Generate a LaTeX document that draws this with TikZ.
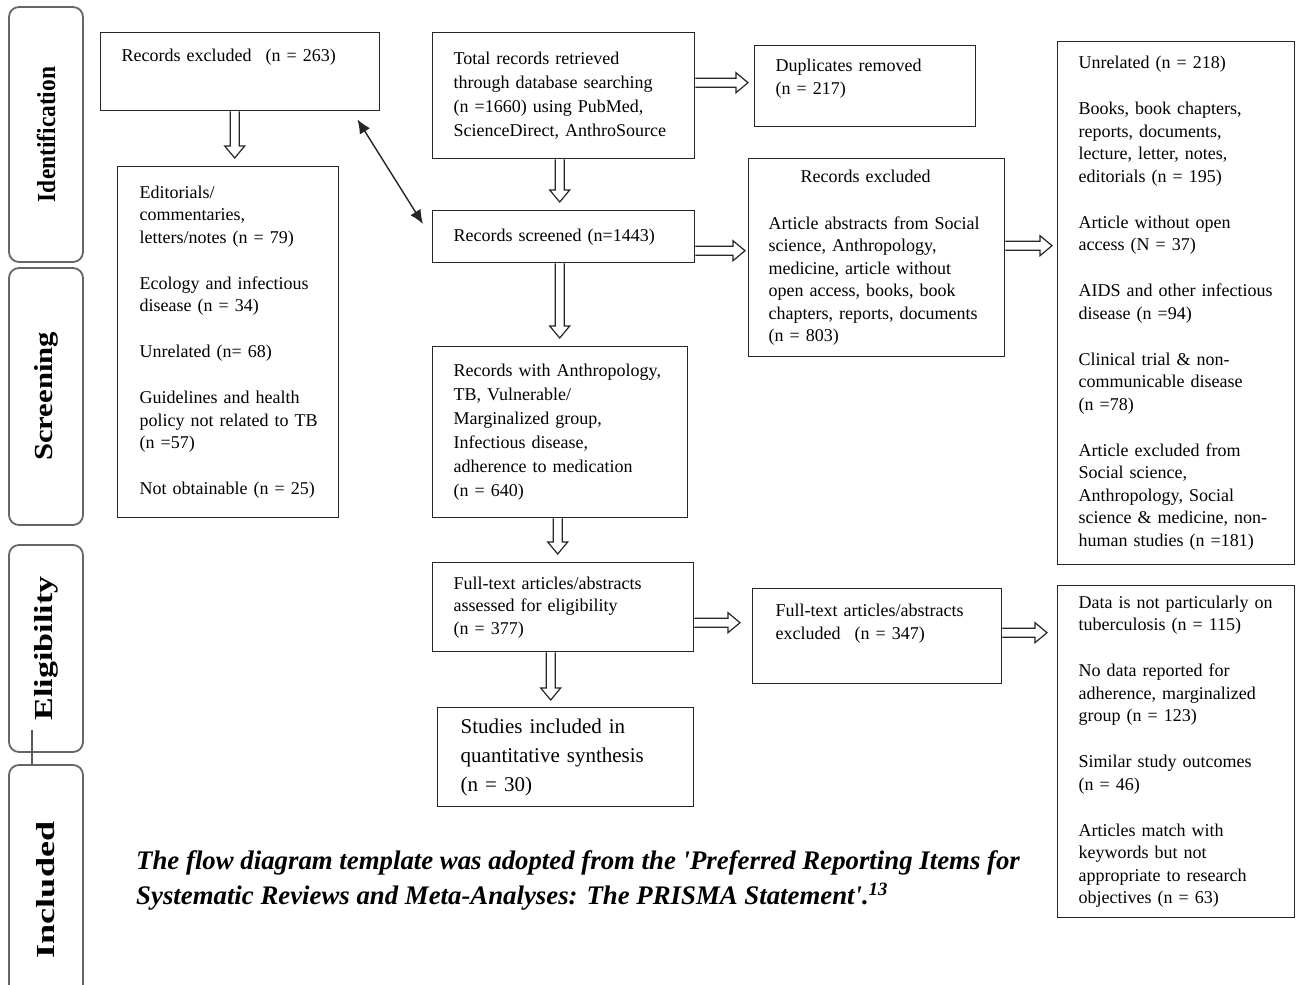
\documentclass[tikz,border=0pt]{standalone}
\usepackage{fontspec}
\setmainfont{Liberation Serif}
\usetikzlibrary{arrows.meta,calc}
\newcommand\pgap{\\[23.5pt]}
\begin{document}
\begin{tikzpicture}[x=1pt,y=-1pt,
  box/.style={draw=black!85, line width=1.4pt, anchor=north west, align=left, inner ysep=3pt, font=\fontsize{18}{22.5}\selectfont},
  bar/.style={draw=black!60, line width=1.8pt, rounded corners=10pt, rotate=90, font=\fontsize{26}{26}\selectfont\bfseries, inner sep=0pt, minimum height=74pt},
  darr/.style={draw=black!85, line width=1.2pt, line join=miter,
    to path={let \p1=(\tikztostart), \p2=(\tikztotarget) in
      (\x1-4.5pt,\y1) -- (\x1-4.5pt,\y2+12pt) -- (\x1-10pt,\y2+12pt) -- (\x1,\y2) -- (\x1+10pt,\y2+12pt) -- (\x1+4.5pt,\y2+12pt) -- (\x1+4.5pt,\y1)}},
  rarr/.style={draw=black!85, line width=1.2pt, line join=miter,
    to path={let \p1=(\tikztostart), \p2=(\tikztotarget) in
      (\x1,\y1+4.5pt) -- (\x2-12pt,\y1+4.5pt) -- (\x2-12pt,\y1+10pt) -- (\x2,\y1) -- (\x2-12pt,\y1-10pt) -- (\x2-12pt,\y1-4.5pt) -- (\x1,\y1-4.5pt)}},
  dbl/.style={draw=black!85, line width=1.4pt, {Latex[length=14pt,width=12pt]}-{Latex[length=14pt,width=12pt]}},
  bline/.style={draw=black!65, line width=1.6pt}
]
\useasboundingbox (0,0) rectangle (1296,985);
\fill[white] (0,0) rectangle (1296,985);
\clip (0,0) rectangle (1296,985);

% side bars
\node[bar, minimum width=255pt] (idf) at (46,134.5) {\scalebox{0.9}[1]{Identification}};
\node[bar, minimum width=257pt] (scr) at (46,396.5) {\scalebox{1.18}[1]{Screening}};
\node[bar, minimum width=207pt] (eli) at (46,648.5) {\scalebox{1.31}[1]{Eligibility}};
\node[bar, minimum width=250pt] (inc) at (46,890) {\scalebox{1.39}[1]{Included}};
\draw[bline] ([xshift=-14pt,yshift=23pt]eli.west) -- ([xshift=-14pt]inc.east);

% boxes
\node[box, minimum width=279pt, minimum height=78pt, text width=237pt, inner xsep=21pt] (rex) at (100,32)
  {Records excluded\hspace{14pt}(n = 263)\rule[-32.5pt]{0pt}{0pt}};
\node[box, minimum width=221pt, minimum height=351pt, text width=177pt, inner xsep=22pt] (edit) at (117,166)
  {Editorials/\\commentaries,\\letters/notes (n = 79)\pgap
   Ecology and infectious\\disease (n = 34)\pgap
   Unrelated (n= 68)\pgap
   Guidelines and health\\\mbox{policy not related to TB}\\(n =57)\pgap
   Not obtainable (n = 25)};
\node[box, minimum width=262pt, minimum height=126pt, text width=220pt, inner xsep=21pt, font=\fontsize{18}{24}\selectfont] (total) at (432,32)
  {Total records retrieved\\through database searching\\(n =1660) using PubMed,\\ScienceDirect, AnthroSource};
\node[box, minimum width=221pt, minimum height=81pt, text width=179pt, inner xsep=21pt] (dup) at (754,45)
  {Duplicates removed\\(n = 217)\rule[-19pt]{0pt}{0pt}};
\node[box, minimum width=262pt, minimum height=52pt, text width=220pt, inner xsep=21pt] (screen) at (432,210)
  {Records screened (n=1443)};
\node[box, minimum width=256pt, minimum height=198pt, text width=216pt, inner xsep=20pt] (rexb) at (748,158)
  {\hspace*{32pt}Records excluded\\[24pt]
   Article abstracts from Social\\science, Anthropology,\\medicine, article without\\open access, books, book\\chapters, reports, documents\\(n = 803)};
\node[box, minimum width=237pt, minimum height=523pt, text width=195pt, inner xsep=21pt] (unrel) at (1057,41)
  {Unrelated (n = 218)\pgap
   Books, book chapters,\\reports, documents,\\lecture, letter, notes,\\editorials (n = 195)\pgap
   Article without open\\access (N = 37)\pgap
   \mbox{AIDS and other infectious}\\disease (n =94)\pgap
   Clinical trial \& non-\\communicable disease\\(n =78)\pgap
   Article excluded from\\Social science,\\Anthropology, Social\\science \& medicine, non-\\human studies (n =181)};
\node[box, minimum width=255pt, minimum height=171pt, text width=213pt, inner xsep=21pt, font=\fontsize{18}{24}\selectfont] (anth) at (432,346)
  {Records with Anthropology,\\TB, Vulnerable/\\Marginalized group,\\Infectious disease,\\adherence to medication\\(n = 640)};
\node[box, minimum width=261pt, minimum height=89pt, text width=219pt, inner xsep=21pt] (full) at (432,562)
  {Full-text articles/abstracts\\assessed for eligibility\\(n = 377)};
\node[box, minimum width=256pt, minimum height=99pt, text width=210pt, inner xsep=23pt, font=\fontsize{21}{29}\selectfont] (studies) at (437,707)
  {Studies included in\\quantitative synthesis\\(n = 30)};
\node[box, minimum width=249pt, minimum height=95pt, text width=203pt, inner xsep=23pt] (ftex) at (752,588)
  {Full-text articles/abstracts\\excluded\hspace{14pt}(n = 347)\rule[-29pt]{0pt}{0pt}};
\node[box, minimum width=237pt, minimum height=332pt, text width=195pt, inner xsep=21pt] (data) at (1057,585)
  {\mbox{Data is not particularly on}\\tuberculosis (n = 115)\pgap
   No data reported for\\adherence, marginalized\\group (n = 123)\pgap
   Similar study outcomes\\(n = 46)\pgap
   Articles match with\\keywords but not\\appropriate to research\\objectives (n = 63)};

% caption
\node[anchor=north west, align=left, inner sep=0pt, font=\fontsize{26.8}{35}\selectfont\bfseries\itshape] (cap) at (136,850)
  {The flow diagram template was adopted from the \textquotesingle Preferred Reporting Items for\\
   Systematic Reviews and Meta-Analyses: The PRISMA Statement\textquotesingle.\textsuperscript{13}};

% hollow block arrows
\draw[darr] ([xshift=-5.5pt]rex.south) to ([yshift=8pt]edit.north);
\draw[darr] ([xshift=-4pt]total.south) to ([yshift=8pt]screen.north);
\draw[darr] ([xshift=-4pt]screen.south) to ([yshift=8pt]anth.north);
\draw[darr] ([xshift=-2.5pt]anth.south) to ([yshift=8pt]full.north);
\draw[darr] ([xshift=-12.5pt]full.south) to ([yshift=7pt]studies.north);
\draw[rarr] ([yshift=13pt]total.east) to ([xshift=-6pt]dup.west);
\draw[rarr] ([yshift=-14pt]screen.east) to ([xshift=-3pt]rexb.west);
\draw[rarr] ([yshift=12pt]rexb.east) to ([xshift=-5pt]unrel.west);
\draw[rarr] ([yshift=-15.5pt]full.east) to ([xshift=-12pt]ftex.west);
\draw[rarr] ([yshift=3.5pt]ftex.east) to ([xshift=-10pt]data.west);

% double-headed arrow
\draw[dbl] ([shift={(-23,8)}]rex.south east) -- ([shift={(-9,14)}]screen.north west);
\end{tikzpicture}
\end{document}
